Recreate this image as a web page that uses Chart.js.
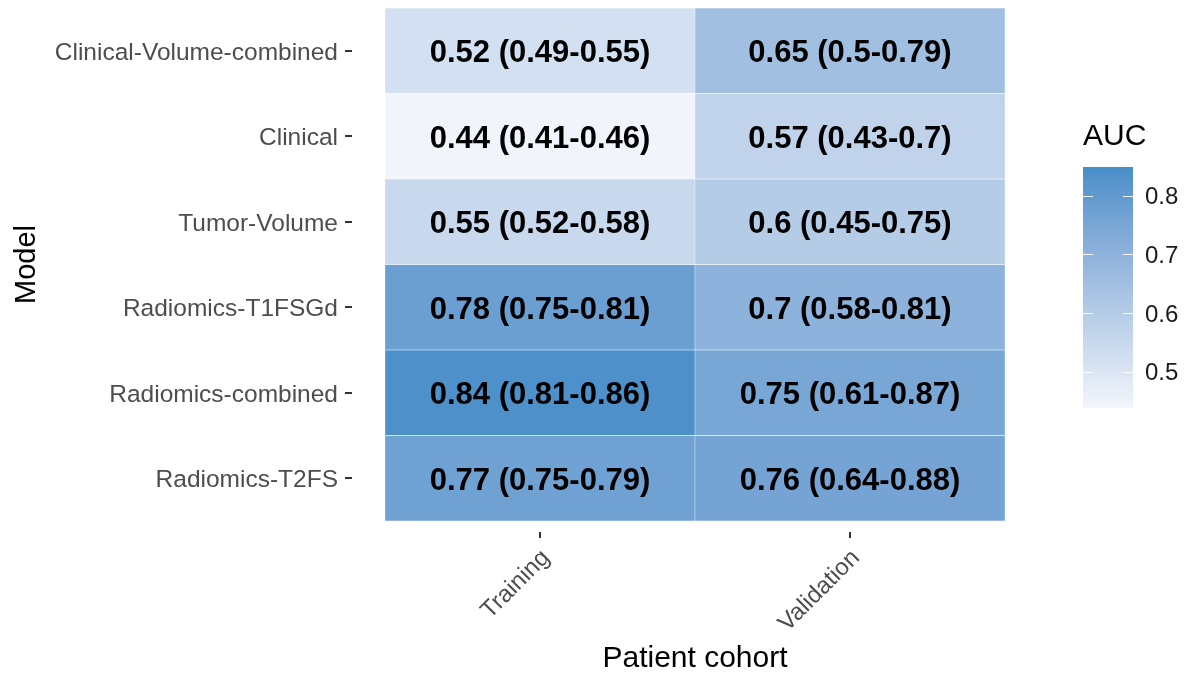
<!DOCTYPE html>
<html>
<head>
<meta charset="utf-8">
<script src="https://cdn.jsdelivr.net/npm/chart.js@4.4.1/dist/chart.umd.min.js"></script>
<style>
  html, body { margin: 0; padding: 0; background: #fff; }
  #wrap { position: relative; width: 1189px; height: 677px; }
  #heat { position: absolute; left: 0; top: 0; }
  #bar { position: absolute; left: 1060px; top: 110px; }
</style>
</head>
<body>
<div id="wrap">
  <canvas id="heat" width="1189" height="677"></canvas>
  <canvas id="bar" width="129" height="310"></canvas>
</div>
<script>
// ---- data (top row first) ----
const models = ['Clinical-Volume-combined', 'Clinical', 'Tumor-Volume', 'Radiomics-T1FSGd', 'Radiomics-combined', 'Radiomics-T2FS'];
const cohorts = ['Training', 'Validation'];
const trainAuc = [0.52, 0.44, 0.55, 0.78, 0.84, 0.77];
const trainLow = [0.49, 0.41, 0.52, 0.75, 0.81, 0.75];
const trainHigh = [0.55, 0.46, 0.58, 0.81, 0.86, 0.79];
const validAuc = [0.65, 0.57, 0.6, 0.7, 0.75, 0.76];
const validLow = [0.5, 0.43, 0.45, 0.58, 0.61, 0.64];
const validHigh = [0.79, 0.7, 0.75, 0.81, 0.87, 0.88];
const aucLimits = [0.438, 0.849];
const legendTicks = [0.5, 0.6, 0.7, 0.8];

const FONT = "'Liberation Sans', Arial, sans-serif";
const LOW_COL = [242, 246, 251];
const HIGH_COL = [72, 142, 201];

// gradient like ggplot: interpolate in Lab space
function toLab(rgb) {
  const lin = rgb.map(v => { v /= 255; return v <= 0.04045 ? v / 12.92 : Math.pow((v + 0.055) / 1.055, 2.4); });
  const X = (0.4124 * lin[0] + 0.3576 * lin[1] + 0.1805 * lin[2]) / 0.95047;
  const Y = 0.2126 * lin[0] + 0.7152 * lin[1] + 0.0722 * lin[2];
  const Z = (0.0193 * lin[0] + 0.1192 * lin[1] + 0.9505 * lin[2]) / 1.08883;
  const f = t => t > 0.008856 ? Math.cbrt(t) : 7.787 * t + 16 / 116;
  return [116 * f(Y) - 16, 500 * (f(X) - f(Y)), 200 * (f(Y) - f(Z))];
}
function fromLab(lab) {
  const fy = (lab[0] + 16) / 116, fx = fy + lab[1] / 500, fz = fy - lab[2] / 200;
  const g = t => t > 0.206893 ? t * t * t : (t - 16 / 116) / 7.787;
  const X = g(fx) * 0.95047, Y = g(fy), Z = g(fz) * 1.08883;
  const lin = [
    3.2406 * X - 1.5372 * Y - 0.4986 * Z,
    -0.9689 * X + 1.8758 * Y + 0.0415 * Z,
    0.0557 * X - 0.2040 * Y + 1.0570 * Z
  ];
  return lin.map(v => {
    v = v <= 0.0031308 ? 12.92 * v : 1.055 * Math.pow(v, 1 / 2.4) - 0.055;
    return Math.round(Math.max(0, Math.min(1, v)) * 255);
  });
}
const LOW_LAB = toLab(LOW_COL), HIGH_LAB = toLab(HIGH_COL);

function fillFor(v) {
  let t = (v - aucLimits[0]) / (aucLimits[1] - aucLimits[0]);
  t = Math.max(0, Math.min(1, t));
  const c = fromLab(LOW_LAB.map((lo, k) => lo + (HIGH_LAB[k] - lo) * t));
  return `rgb(${c[0]},${c[1]},${c[2]})`;
}

function cellText(auc, lo, hi) {
  return `${auc} (${lo}-${hi})`;
}

// stacked bars: bottom row is the first dataset
const rowOrder = models.map((m, i) => i).reverse();
const datasets = rowOrder.map(i => ({
  label: models[i],
  data: cohorts.map(() => 1),
  backgroundColor: [fillFor(trainAuc[i]), fillFor(validAuc[i])],
  borderColor: 'rgba(255,255,255,0.85)',
  borderWidth: 0.5,
  borderSkipped: false,
  texts: [cellText(trainAuc[i], trainLow[i], trainHigh[i]), cellText(validAuc[i], validLow[i], validHigh[i])],
  barPercentage: 1,
  categoryPercentage: 1
}));

// labels inside cells + outer tick marks
const heatDecor = {
  id: 'heatDecor',
  afterDatasetsDraw(chart) {
    const ctx = chart.ctx;
    ctx.save();
    ctx.fillStyle = '#000';
    ctx.font = `bold 31px ${FONT}`;
    ctx.textAlign = 'center';
    ctx.textBaseline = 'middle';
    chart.data.datasets.forEach((ds, d) => {
      chart.getDatasetMeta(d).data.forEach((el, j) => {
        ctx.fillText(ds.texts[j], el.x, (el.y + el.base) / 2 + 3);
      });
    });
    ctx.restore();
  },
  afterDraw(chart) {
    const ctx = chart.ctx;
    const xs = chart.scales.x, ys = chart.scales.y;
    ctx.save();
    ctx.strokeStyle = '#333';
    ctx.lineWidth = 2;
    ys.ticks.forEach(t => {
      const y = Math.round(ys.getPixelForValue(t.value));
      ctx.beginPath();
      ctx.moveTo(ys.right - 40, y);
      ctx.lineTo(ys.right - 33, y);
      ctx.stroke();
    });
    xs.ticks.forEach((t, i) => {
      const x = Math.round(xs.getPixelForTick(i));
      ctx.beginPath();
      ctx.moveTo(x, chart.chartArea.bottom + 11);
      ctx.lineTo(x, chart.chartArea.bottom + 17);
      ctx.stroke();
    });
    ctx.restore();
  }
};

new Chart(document.getElementById('heat'), {
  type: 'bar',
  data: { labels: cohorts, datasets },
  options: {
    responsive: false,
    animation: false,
    layout: { padding: { top: 8, right: 184, left: 0, bottom: 0 } },
    plugins: { legend: { display: false }, tooltip: { enabled: false } },
    scales: {
      x: {
        stacked: true,
        grid: { display: false },
        border: { display: false },
        afterFit: s => { s.height = 156; s.paddingLeft = 0; s.paddingRight = 0; },
        ticks: { minRotation: 45, maxRotation: 45, padding: 15, labelOffset: 6, color: '#4d4d4d', font: { family: FONT, size: 24 } },
        title: { display: true, text: 'Patient cohort', color: '#000', font: { family: FONT, size: 30 }, padding: { top: 0, bottom: 0 } }
      },
      y: {
        stacked: true,
        min: 0,
        max: models.length,
        grid: { display: false },
        border: { display: false },
        afterFit: s => { s.width = 385; s.paddingTop = 0; s.paddingBottom = 0; },
        afterBuildTicks: s => { s.ticks = rowOrder.map((m, k) => ({ value: k + 0.5 })); },
        ticks: {
          padding: 39,
          labelOffset: 2,
          color: '#4d4d4d',
          font: { family: FONT, size: 24.5 },
          callback: v => models[rowOrder[Math.floor(v)]]
        },
        title: { display: true, text: 'Model', color: '#000', font: { family: FONT, size: 29 }, padding: { top: 10, bottom: 0 } }
      }
    }
  },
  plugins: [heatDecor]
});

// ---- colour bar legend ----
const barTicks = {
  id: 'barTicks',
  afterDatasetsDraw(chart) {
    const ctx = chart.ctx, ys = chart.scales.y, a = chart.chartArea;
    ctx.save();
    ctx.strokeStyle = 'rgba(255,255,255,0.9)';
    ctx.lineWidth = 1;
    legendTicks.forEach(v => {
      const y = Math.round(ys.getPixelForValue(v)) + 0.5;
      ctx.beginPath();
      ctx.moveTo(a.left, y); ctx.lineTo(a.left + 10, y);
      ctx.moveTo(a.right - 10, y); ctx.lineTo(a.right, y);
      ctx.stroke();
    });
    ctx.restore();
  }
};

new Chart(document.getElementById('bar'), {
  type: 'bar',
  data: {
    labels: ['AUC'],
    datasets: [{
      data: [aucLimits],
      barPercentage: 1,
      categoryPercentage: 1,
      borderWidth: 0,
      backgroundColor: c => {
        const a = c.chart.chartArea;
        if (!a) return fillFor(aucLimits[1]);
        const ys = c.chart.scales.y;
        const g = c.chart.ctx.createLinearGradient(0, ys.getPixelForValue(aucLimits[0]), 0, ys.getPixelForValue(aucLimits[1]));
        for (let k = 0; k <= 10; k++) {
          const v = aucLimits[0] + (aucLimits[1] - aucLimits[0]) * k / 10;
          g.addColorStop(k / 10, fillFor(v));
        }
        return g;
      }
    }]
  },
  options: {
    responsive: false,
    animation: false,
    layout: { padding: { left: 23, right: 0, top: 0, bottom: 12 } },
    plugins: {
      legend: { display: false },
      tooltip: { enabled: false },
      title: { display: true, text: 'AUC', align: 'start', color: '#000', font: { family: FONT, size: 30, weight: 'normal' }, padding: { top: 9, bottom: 12 } }
    },
    scales: {
      x: { display: false },
      y: {
        position: 'right',
        min: aucLimits[0],
        max: aucLimits[1],
        grid: { display: false },
        border: { display: false },
        afterFit: s => { s.width = 56; s.paddingTop = 0; s.paddingBottom = 0; },
        afterBuildTicks: s => { s.ticks = legendTicks.map(v => ({ value: v })); },
        ticks: { padding: 4, labelOffset: 2, color: '#1a1a1a', font: { family: FONT, size: 24 }, callback: v => String(v) }
      }
    }
  },
  plugins: [barTicks]
});
</script>
</body>
</html>
